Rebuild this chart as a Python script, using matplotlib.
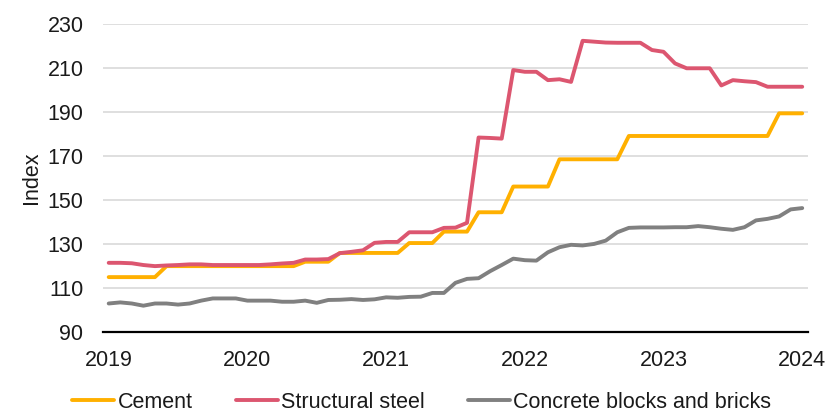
import matplotlib
matplotlib.use("Agg")
import matplotlib.pyplot as plt
import pandas as pd

plt.rcParams['font.family'] = ['Liberation Sans', 'DejaVu Sans']

# Monthly price indices, January 2019 to January 2024
months = pd.date_range("2019-01-01", "2024-01-01", freq="MS")

cement = ([115.0] * 5 + [120.0] * 12 + [122.0] * 3 + [126.0] * 6 + [130.5] * 3
          + [135.7] * 3 + [144.5] * 3 + [156.2] * 4 + [168.6] * 6 + [179.2] * 13
          + [189.5] * 3)

structural_steel = [
    121.5, 121.5, 121.3, 120.5, 120.0, 120.3, 120.5, 120.8, 120.8, 120.5,
    120.5, 120.5, 120.5, 120.5, 120.8, 121.2, 121.5, 123.0, 123.0, 123.2,
    125.9, 126.5, 127.2, 130.6, 131.0, 131.0, 135.4, 135.4, 135.4, 137.4,
    137.5, 139.7, 178.5, 178.3, 178.0, 209.2, 208.4, 208.4, 204.6, 205.0,
    203.8, 222.5, 222.1, 221.7, 221.6, 221.6, 221.6, 218.3, 217.5, 212.2,
    210.0, 210.0, 210.0, 202.2, 204.6, 204.1, 203.7, 201.6, 201.6, 201.6,
    201.6,
]

concrete_blocks = [
    103.0, 103.5, 103.0, 102.0, 103.0, 103.0, 102.5, 103.0, 104.3, 105.3,
    105.3, 105.3, 104.3, 104.3, 104.3, 103.8, 103.8, 104.3, 103.3, 104.6,
    104.7, 105.0, 104.6, 104.9, 105.8, 105.6, 106.0, 106.1, 107.8, 107.8,
    112.4, 114.2, 114.5, 117.7, 120.5, 123.4, 122.7, 122.5, 126.3, 128.6,
    129.7, 129.4, 130.1, 131.6, 135.4, 137.4, 137.6, 137.6, 137.6, 137.7,
    137.7, 138.2, 137.7, 137.0, 136.5, 137.7, 140.8, 141.5, 142.6, 145.8,
    146.4,
]

series_names = ["Cement", "Structural steel", "Concrete blocks and bricks"]
series_colors = ["#FFB000", "#DC5670", "#808080"]
y_ticks = [90, 110, 130, 150, 170, 190, 210, 230]

fig = plt.figure(figsize=(8.3, 4.12), dpi=100)
ax = fig.add_axes([0.124, 0.194, 0.8495, 0.747])

x = list(range(len(months)))
for values, name, color in zip([cement, structural_steel, concrete_blocks],
                               series_names, series_colors):
    ax.plot(x, values, color=color, lw=2.8, label=name,
            solid_joinstyle="round", solid_capstyle="round")

ax.set_xlim(-0.5, len(months) - 0.5)
ax.set_ylim(90, 230)
ax.set_yticks(y_ticks)
ax.grid(axis="y", color="#d9d9d9", lw=1.2)
ax.set_axisbelow(True)

year_pos = [i for i, m in enumerate(months) if m.month == 1]
ax.set_xticks(year_pos)
ax.set_xticklabels([str(months[i].year) for i in year_pos])

for side in ["left", "right", "top"]:
    ax.spines[side].set_visible(False)
ax.spines["bottom"].set_color("black")
ax.spines["bottom"].set_linewidth(1.6)
ax.spines["bottom"].set_zorder(3)

ax.tick_params(axis="y", length=0, pad=14, labelsize=15.5, labelcolor="#1a1a1a")
ax.tick_params(axis="x", length=0, pad=13, labelsize=15.5, labelcolor="#1a1a1a")
ax.set_ylabel("Index", fontsize=15.5, color="#1a1a1a", labelpad=4)

fig.legend(loc="center", bbox_to_anchor=(0.508, 0.024), ncol=3, frameon=False,
           fontsize=15.5, handlelength=1.95, handletextpad=0.15,
           columnspacing=2.0, labelcolor="#1a1a1a")

fig.savefig("out.png", dpi=100)
